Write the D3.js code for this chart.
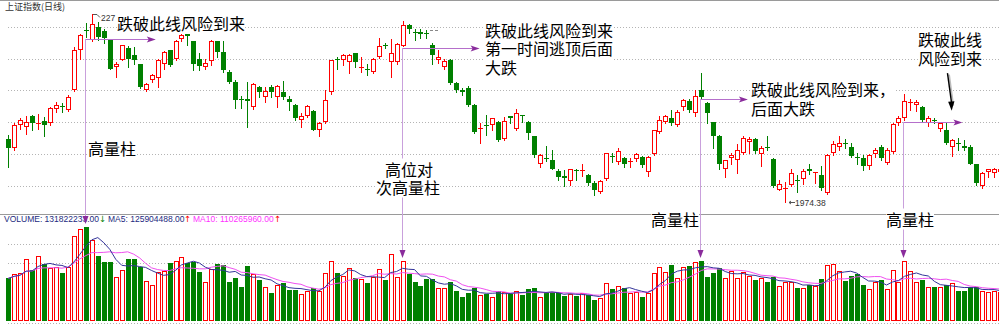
<!DOCTYPE html>
<html>
<head>
<meta charset="utf-8">
<script src="https://cdn.jsdelivr.net/npm/d3@7"></script>
<style>
  html, body { margin: 0; padding: 0; background: #fff; overflow: hidden; }
  svg { display: block; }
</style>
</head>
<body>
<div id="chart"></div>
<script>
// daily candles of the index (oldest first)
const opens = [
  2074, 2060, 2095, 2093, 2109, 2097, 2102, 2098, 2120, 2126,
  2119, 2150, 2214, 2245, 2229, 2250, 2244, 2230, 2186, 2198,
  2217, 2206, 2191, 2150, 2166, 2170, 2191, 2213, 2199, 2230,
  2238, 2227, 2200, 2186, 2196, 2227, 2211, 2179, 2163, 2137,
  2136, 2124, 2155, 2139, 2155, 2139, 2148, 2137, 2127, 2103,
  2110, 2117, 2088, 2101, 2148, 2199, 2198, 2195, 2208, 2186,
  2184, 2179, 2203, 2222, 2195, 2195, 2220, 2252, 2242, 2241,
  2240, 2221, 2198, 2187, 2198, 2161, 2150, 2153, 2127, 2089,
  2096, 2095, 2101, 2074, 2109, 2090, 2111, 2101, 2078, 2034,
  2044, 2040, 2024, 2015, 2008, 2025, 2024, 2017, 2005, 1991,
  2010, 2047, 2038, 2043, 2037, 2042, 2046, 2022, 2050, 2085,
  2101, 2107, 2095, 2124, 2134, 2115, 2151, 2130, 2100, 2078,
  2026, 2043, 2040, 2052, 2069, 2073, 2050, 2061, 2042, 1994,
  1995, 2001, 2009, 2010, 2026, 2020, 2017, 1988, 2051, 2061,
  2068, 2061, 2046, 2043, 2031, 2050, 2061, 2036, 2053, 2098,
  2106, 2130, 2127, 2124, 2098, 2104, 2090, 2087, 2061, 2068,
  2062, 2061, 2034, 1999, 2021, 2020, 2021
];
const highs = [
  2080, 2098, 2106, 2109, 2111, 2113, 2108, 2124, 2132, 2130,
  2143, 2218, 2239, 2256, 2270, 2258, 2247, 2230, 2195, 2222,
  2219, 2218, 2192, 2161, 2175, 2199, 2212, 2214, 2229, 2241,
  2240, 2228, 2209, 2200, 2229, 2228, 2227, 2182, 2166, 2141,
  2163, 2161, 2157, 2156, 2158, 2158, 2165, 2141, 2128, 2114,
  2127, 2119, 2101, 2150, 2198, 2203, 2207, 2207, 2209, 2203,
  2192, 2201, 2233, 2224, 2230, 2225, 2259, 2254, 2246, 2246,
  2245, 2225, 2214, 2199, 2199, 2163, 2153, 2157, 2128, 2098,
  2111, 2107, 2102, 2108, 2110, 2120, 2111, 2102, 2079, 2050,
  2062, 2056, 2027, 2025, 2027, 2026, 2034, 2018, 2008, 2009,
  2052, 2051, 2060, 2046, 2043, 2052, 2047, 2047, 2088, 2110,
  2111, 2119, 2119, 2137, 2136, 2151, 2178, 2132, 2101, 2080,
  2041, 2051, 2066, 2078, 2077, 2075, 2062, 2078, 2043, 2009,
  2006, 2027, 2017, 2026, 2034, 2022, 2031, 2050, 2071, 2078,
  2074, 2067, 2051, 2048, 2050, 2060, 2064, 2059, 2099, 2109,
  2145, 2137, 2135, 2125, 2109, 2106, 2101, 2101, 2073, 2075,
  2072, 2064, 2035, 2022, 2027, 2028, 2027
];
const lows = [
  2029, 2056, 2090, 2081, 2088, 2089, 2078, 2095, 2116, 2116,
  2118, 2149, 2200, 2234, 2227, 2229, 2224, 2183, 2171, 2197,
  2186, 2192, 2153, 2149, 2163, 2156, 2184, 2188, 2198, 2227,
  2221, 2182, 2182, 2183, 2190, 2203, 2179, 2161, 2122, 2122,
  2093, 2120, 2140, 2132, 2140, 2124, 2136, 2119, 2103, 2093,
  2108, 2087, 2078, 2099, 2145, 2184, 2190, 2177, 2187, 2179,
  2174, 2177, 2201, 2216, 2171, 2192, 2219, 2240, 2229, 2232,
  2232, 2192, 2193, 2183, 2160, 2148, 2142, 2125, 2083, 2068,
  2080, 2088, 2071, 2072, 2098, 2088, 2101, 2074, 2046, 2029,
  2039, 2026, 2009, 1999, 2001, 2009, 2015, 2001, 1985, 1989,
  2009, 2038, 2035, 2030, 2029, 2039, 2030, 2015, 2048, 2083,
  2098, 2095, 2094, 2119, 2116, 2110, 2136, 2098, 2059, 2027,
  2014, 2034, 2020, 2050, 2052, 2052, 2031, 2056, 1998, 1993,
  1974.38, 1999, 1991, 2003, 2018, 2004, 1993, 1987, 2048, 2057,
  2060, 2046, 2035, 2025, 2026, 2046, 2040, 2035, 2052, 2095,
  2104, 2119, 2118, 2101, 2094, 2099, 2086, 2066, 2047, 2057,
  2056, 2034, 2001, 1997, 2014, 2014, 2017
];
const closes = [
  2059, 2095, 2103, 2101, 2098, 2098, 2095, 2123, 2127, 2125,
  2139, 2214, 2237, 2243, 2254, 2234, 2232, 2184, 2192, 2221,
  2200, 2198, 2155, 2160, 2174, 2198, 2211, 2190, 2228, 2237,
  2236, 2192, 2188, 2193, 2228, 2211, 2182, 2163, 2135, 2135,
  2133, 2160, 2148, 2149, 2148, 2157, 2139, 2131, 2106, 2110,
  2126, 2088, 2099, 2135, 2197, 2197, 2205, 2205, 2195, 2187,
  2183, 2200, 2220, 2220, 2208, 2223, 2253, 2247, 2240, 2239,
  2238, 2206, 2203, 2196, 2161, 2150, 2148, 2127, 2085, 2091,
  2094, 2106, 2072, 2102, 2107, 2115, 2109, 2083, 2048, 2048,
  2042, 2027, 2014, 2013, 2026, 2023, 2025, 2005, 1994, 2008,
  2051, 2045, 2054, 2034, 2039, 2050, 2033, 2046, 2087, 2104,
  2110, 2099, 2116, 2135, 2119, 2141, 2139, 2114, 2078, 2035,
  2040, 2048, 2057, 2075, 2074, 2054, 2060, 2059, 1999, 2003,
  1997, 2020, 2007, 2024, 2024, 2021, 1996, 2048, 2066, 2067,
  2066, 2047, 2044, 2031, 2048, 2057, 2043, 2057, 2097, 2106,
  2134, 2131, 2132, 2103, 2106, 2102, 2098, 2068, 2072, 2066,
  2059, 2035, 2004, 2020, 2026, 2026, 2026
];
// traded volume, millions
const volumes = [
  59.7, 65.3, 67.6, 86.3, 71.4, 91.0, 79.8, 74.6, 76.0, 67.6,
  76.0, 119.0, 128.3, 131.8, 113.4, 91.4, 83.0, 82.1, 62.0, 71.4,
  86.3, 86.3, 75.1, 56.0, 49.9, 68.1, 70.4, 80.7, 84.4, 89.1,
  81.6, 82.6, 68.1, 55.0, 73.2, 79.8, 78.4, 55.0, 60.6, 48.0,
  77.0, 65.3, 57.3, 48.0, 39.6, 49.9, 52.7, 43.3, 43.3, 37.7,
  42.4, 45.7, 42.4, 67.6, 84.4, 67.6, 63.4, 74.6, 60.6, 58.7,
  53.6, 62.0, 72.3, 57.3, 93.8, 61.1, 84.4, 65.7, 55.0, 49.4,
  58.3, 58.3, 45.7, 45.7, 54.1, 42.0, 34.0, 39.6, 46.6, 36.3,
  37.7, 34.0, 42.0, 41.0, 37.7, 42.4, 36.3, 44.7, 46.6, 33.5,
  38.7, 40.1, 39.6, 35.0, 37.3, 35.0, 38.7, 36.3, 29.3, 31.7,
  53.6, 44.3, 49.4, 46.6, 39.6, 40.1, 33.0, 39.6, 66.7, 76.0,
  68.1, 78.4, 59.7, 75.1, 77.0, 82.1, 84.4, 62.0, 66.7, 73.7,
  59.7, 70.4, 59.7, 69.0, 63.0, 57.3, 59.7, 55.0, 61.1, 49.4,
  55.0, 55.0, 46.6, 45.7, 50.3, 49.4, 58.3, 78.4, 80.2, 70.4,
  56.0, 63.4, 65.7, 50.3, 44.7, 55.0, 57.3, 44.7, 71.4, 55.0,
  84.4, 70.4, 55.0, 57.3, 48.0, 47.1, 47.1, 50.3, 52.7, 42.0,
  42.0, 48.0, 47.1, 42.0, 40.5, 42.4, 41.0
];
const priceTicks = [2000, 2050, 2100, 2150, 2200, 2250];
const volTicks = [81, 108];

const title = "上证指数(日线)";
const volText = "VOLUME: 131822233.00";
const ma5Text = "MA5: 125904488.00";
const ma10Text = "MA10: 110265960.00";
const highText = "227";
const lowText = "1974.38";

// annotation arrows: candle index, price level of the line, where it ends
const markIdx = [13, 66, 116, 150];
const markLevel = [2230, 2216, 2136, 2100];
const markEnd = [24.7, 78.9, 123.8, 159.7];

const width = 999;
const height = 326;
const RED = "#ff0000";
const GREEN = "#008000";
const CJK = "'Noto Sans CJK SC', sans-serif";
const LAT = "'Liberation Sans', Arial, sans-serif";

const n = opens.length;
const x = d3.scaleLinear().domain([0, n - 1]).range([8.2, 8.2 + (n - 1) * 5.975]);
const y = d3.scaleLinear().domain([2000, 2250]).range([185.8, 26.7]);
const yv = d3.scaleLinear().domain([0, 140]).range([321, 221]);

const svg = d3.select("#chart").append("svg")
  .attr("width", width).attr("height", height)
  .style("font-family", LAT);

const cx = (i) => Math.round(x(i));
const py = (p) => Math.round(y(p));

// frame
svg.append("line").attr("x1", 0).attr("x2", width).attr("y1", 0.5).attr("y2", 0.5)
  .attr("stroke", "#9a9a9a");
svg.append("line").attr("x1", 0).attr("x2", width).attr("y1", 214.5).attr("y2", 214.5)
  .attr("stroke", "#9a9a9a");
svg.append("line").attr("x1", 8).attr("x2", width).attr("y1", 323.5).attr("y2", 323.5)
  .attr("stroke", "#b0b0b0").attr("stroke-dasharray", "1,2");

// grid
svg.append("g").selectAll("line").data(priceTicks).join("line")
  .attr("x1", 8).attr("x2", width)
  .attr("y1", (d) => py(d) + 0.5).attr("y2", (d) => py(d) + 0.5)
  .attr("stroke", "#b4b4b4").attr("stroke-dasharray", "1,2");
svg.append("g").selectAll("line").data(volTicks).join("line")
  .attr("x1", 8).attr("x2", width)
  .attr("y1", (d) => Math.round(yv(d)) + 0.5).attr("y2", (d) => Math.round(yv(d)) + 0.5)
  .attr("stroke", "#b4b4b4").attr("stroke-dasharray", "1,2");

svg.append("text").attr("x", 5).attr("y", 10)
  .style("font-family", CJK).style("font-size", "9px").attr("fill", "#333")
  .text(title);

const rows = d3.range(n).map((i) => ({
  i, o: opens[i], h: highs[i], l: lows[i], c: closes[i], v: volumes[i], up: closes[i] >= opens[i]
}));

// candles
let k = svg.append("g").selectAll("g").data(rows).join("g");
k.append("line")
  .attr("x1", (d) => cx(d.i) + 0.5).attr("x2", (d) => cx(d.i) + 0.5)
  .attr("y1", (d) => py(d.h)).attr("y2", (d) => py(d.l) + 1)
  .attr("stroke", (d) => (d.up ? RED : GREEN));
k.each(function (d) {
  let g = d3.select(this);
  let top = py(Math.max(d.o, d.c));
  let bot = py(Math.min(d.o, d.c));
  if (d.up && bot - top >= 2) {
    g.append("rect").attr("x", cx(d.i) - 1.5).attr("y", top + 0.5)
      .attr("width", 4).attr("height", bot - top - 1)
      .attr("fill", "#fff").attr("stroke", RED);
  } else {
    g.append("rect").attr("x", cx(d.i) - 2).attr("y", top)
      .attr("width", 5).attr("height", Math.max(1, bot - top))
      .attr("fill", d.up ? RED : GREEN);
  }
});

// volume bars
svg.append("g").selectAll("rect").data(rows).join("rect")
  .attr("x", (d) => (d.up ? cx(d.i) - 1.5 : cx(d.i) - 2))
  .attr("y", (d) => Math.round(yv(d.v)) + (d.up ? 0.5 : 0))
  .attr("width", (d) => (d.up ? 4 : 5))
  .attr("height", (d) => 321 - Math.round(yv(d.v)) - (d.up ? 1 : 0))
  .attr("fill", (d) => (d.up ? "#fff" : GREEN))
  .attr("stroke", (d) => (d.up ? RED : "none"));

// moving averages of volume
function movAvg(len) {
  return volumes.map((v, i) => d3.mean(volumes.slice(Math.max(0, i - len + 1), i + 1)));
}
let line = d3.line().x((d, i) => x(i)).y((d) => yv(d));
svg.append("path").attr("d", line(movAvg(10))).attr("fill", "none")
  .attr("stroke", "#f050f0").attr("stroke-width", 1);
svg.append("path").attr("d", line(movAvg(5))).attr("fill", "none")
  .attr("stroke", "#34349a").attr("stroke-width", 1);

// volume legend
let lg = svg.append("text").attr("y", 222).style("font-size", "8.5px");
lg.append("tspan").attr("x", 4).attr("fill", "#1c2a80").text(volText);
lg.append("tspan").attr("x", 99).attr("fill", "#008000").style("font-family", "'DejaVu Sans'").text("↓");
lg.append("tspan").attr("x", 108).attr("fill", "#1c2a80").text(ma5Text);
lg.append("tspan").attr("x", 184).attr("fill", RED).style("font-family", "'DejaVu Sans'").text("↑");
lg.append("tspan").attr("x", 193).attr("fill", "#ff33ff").text(ma10Text);
lg.append("tspan").attr("x", 274).attr("fill", RED).style("font-family", "'DejaVu Sans'").text("↑");

// high / low labels
let hiI = highs.indexOf(d3.max(highs));
let loI = lows.indexOf(d3.min(lows));
svg.append("path")
  .attr("d", `M${cx(hiI) + 1},${py(highs[hiI]) + 0.5}h4l3,3`)
  .attr("fill", "none").attr("stroke", "#555");
svg.append("text").attr("x", cx(hiI) + 9).attr("y", py(highs[hiI]) + 7)
  .style("font-size", "8.5px").attr("fill", "#333").text(highText);
svg.append("path")
  .attr("d", `M${cx(loI) + 4},${py(lows[loI]) + 0.5}h6M${cx(loI) + 4},${py(lows[loI]) + 0.5}l2,-1.5M${cx(loI) + 4},${py(lows[loI]) + 0.5}l2,1.5`)
  .attr("fill", "none").attr("stroke", "#555");
svg.append("text").attr("x", cx(loI) + 10).attr("y", py(lows[loI]) + 3.5)
  .style("font-size", "8.5px").attr("fill", "#333").text(lowText);
svg.append("line").attr("x1", 430).attr("x2", 439).attr("y1", 30.5).attr("y2", 30.5)
  .attr("stroke", "#888").attr("stroke-dasharray", "3,2");

// arrows
const ann = svg.append("g");
markIdx.forEach((mi, j) => {
  let vx = Math.round(x(mi)) - 0.5;
  let ly = py(markLevel[j]) + 0.5;
  let tip = Math.round(yv(volumes[mi])) - 3;
  let ex = x(markEnd[j]);
  ann.append("line").attr("x1", vx).attr("x2", vx).attr("y1", ly).attr("y2", tip - 6)
    .attr("stroke", "#c9a0dc");
  ann.append("path").attr("d", `M${vx - 3},${tip - 8}L${vx},${tip}L${vx + 3},${tip - 8}Z`)
    .attr("fill", "#8a2c9c");
  ann.append("line").attr("x1", vx).attr("x2", ex - 4).attr("y1", ly).attr("y2", ly)
    .attr("stroke", "#b56fcb");
  ann.append("path").attr("d", `M${ex - 9},${ly - 3}L${ex},${ly}L${ex - 9},${ly + 3}L${ex - 7},${ly}Z`)
    .attr("fill", "#8a2c9c");
});

// black pointer near the last break line
let bx1 = x(157.2), by1 = y(2177), bx2 = x(157.9), by2 = y(2118);
ann.append("line").attr("x1", bx1 + 1.5).attr("y1", by1 + 1.5).attr("x2", bx2 + 1.5).attr("y2", by2 - 5)
  .attr("stroke", "#bbb").attr("stroke-width", 2);
ann.append("line").attr("x1", bx1).attr("y1", by1).attr("x2", bx2).attr("y2", by2 - 7)
  .attr("stroke", "#000").attr("stroke-width", 1.4);
ann.append("path")
  .attr("d", `M${bx2 - 3.5},${by2 - 9}L${bx2},${by2}L${bx2 + 2.8},${by2 - 9.5}Z`)
  .attr("fill", "#000");

// text notes
const notes = [
  { lines: ["跌破此线风险到来"], xs: [117], ys: [30] },
  { lines: ["高量柱"], xs: [88], ys: [155] },
  { lines: ["跌破此线风险到来", "第一时间逃顶后面", "大跌"], xs: [485, 485, 485], ys: [36.5, 55, 73.5] },
  { lines: ["高位对", "次高量柱"], xs: [385, 376], ys: [175.5, 193.5] },
  { lines: ["跌破此线风险到来，", "后面大跌"], xs: [751, 751], ys: [96, 114.5] },
  { lines: ["跌破此线", "风险到来"], xs: [918, 918], ys: [46, 64.5] },
  { lines: ["高量柱"], xs: [651], ys: [225.5] },
  { lines: ["高量柱"], xs: [886], ys: [225.5] }
];
notes.forEach((nt) => {
  let g = svg.append("g");
  let bg = g.append("rect").attr("fill", "#fff");
  let t = g.append("text").style("font-family", CJK).style("font-size", "16px").attr("fill", "#000");
  nt.lines.forEach((s, j) => {
    t.append("tspan").attr("x", nt.xs[j]).attr("y", nt.ys[j]).text(s);
  });
  let b = t.node().getBBox();
  bg.attr("x", b.x).attr("y", b.y + 2).attr("width", b.width).attr("height", b.height - 3);
});
</script>
</body>
</html>
